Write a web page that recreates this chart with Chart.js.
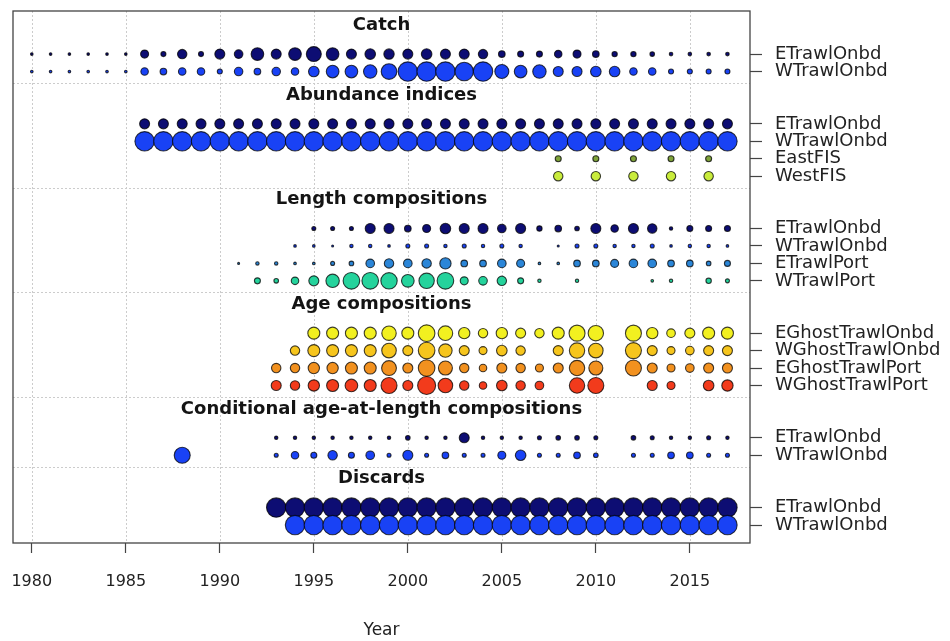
<!DOCTYPE html>
<html>
<head>
<meta charset="utf-8">
<title>Data by type and year</title>
<script src="https://cdn.jsdelivr.net/npm/chart.js@4.4.0/dist/chart.umd.min.js"></script>
<style>
  html, body { margin: 0; padding: 0; background: #fff; }
  #wrap { width: 950px; height: 641px; }
</style>
</head>
<body>
<div id="wrap"><canvas id="dataChart" width="950" height="641"></canvas></div>
<script>
// x axis ticks
const X_TICKS = [1980, 1985, 1990, 1995, 2000, 2005, 2010, 2015];

// section titles and the rows (fleets) under each
const SECTION_TITLES = ['Catch', 'Abundance indices', 'Length compositions', 'Age compositions',
    'Conditional age-at-length compositions', 'Discards'];
const SECTION_FIRST = [0, 4, 10, 16, 22, 26];
const SECTION_LAST = [1, 7, 13, 19, 23, 27];

const ROW_LABELS = ['ETrawlOnbd', 'WTrawlOnbd',
    'ETrawlOnbd', 'WTrawlOnbd', 'EastFIS', 'WestFIS',
    'ETrawlOnbd', 'WTrawlOnbd', 'ETrawlPort', 'WTrawlPort',
    'EGhostTrawlOnbd', 'WGhostTrawlOnbd', 'EGhostTrawlPort', 'WGhostTrawlPort',
    'ETrawlOnbd', 'WTrawlOnbd',
    'ETrawlOnbd', 'WTrawlOnbd'];
const ROW_POS = [0, 1, 4, 5, 6, 7, 10, 11, 12, 13, 16, 17, 18, 19, 22, 23, 26, 27];
const ROW_START = [1980, 1980, 1986, 1986, 2008, 2008, 1995, 1994, 1991, 1992,
    1995, 1994, 1993, 1993, 1993, 1988, 1993, 1994];

// relative bubble values (area), one per year from ROW_START, null = no data
const catchETrawlOnbd = [1.7, 1.7, 1.7, 1.7, 1.7, 1.7, 16, 6.3, 22, 6.3, 25, 18.5, 40, 25, 40, 56, 40, 25, 28, 27,
    25, 28, 25, 25, 22, 11, 9, 9, 14, 16, 11, 7, 7, 5.3, 3.2, 3.2, 3.2, 3.2];
const catchWTrawlOnbd = [1.7, 1.7, 1.7, 1.7, 1.7, 1.7, 14, 11, 14, 14, 6.3, 18, 11, 18, 14, 28, 40, 40, 45, 61,
    94, 94, 94, 85, 94, 49, 40, 45, 25, 25, 28, 28, 14, 14, 6.3, 6.3, 6.3, 6.3];

const abundETrawlOnbd = [25, 25, 25, 25, 25, 25, 25, 25, 25, 25, 25, 25, 25, 25, 25, 25,
    25, 25, 25, 25, 25, 25, 25, 25, 25, 25, 25, 25, 25, 25, 25, 25];
const abundWTrawlOnbd = [94, 94, 94, 94, 94, 94, 94, 94, 94, 94, 94, 94, 94, 94, 94, 94,
    94, 94, 94, 94, 94, 94, 94, 94, 94, 94, 94, 94, 94, 94, 94, 94];
const abundEastFIS = [9, null, 9, null, 9, null, 9, null, 9];
const abundWestFIS = [22, null, 22, null, 22, null, 22, null, 22];

const lenETrawlOnbd = [4, 4, 4, 25, 25,
    11, 16, 28, 25, 25, 18.5, 25, 7, 11, 5.3, 25, 14, 25, 22, 2.9, 9, 9, 9];
const lenWTrawlOnbd = [1.7, 1.7, 1, 2.9, 2.9, 1.7,
    4, 4, 2.9, 4, 2.9, 4, 2.9, null, 1, 4, 4, 2.9, 2.9, 4, 1.7, 2.9, 2.9, 1.7];
const lenETrawlPort = [1, 2.9, 2.9, 1.7, 1.7, 4, 5.3, 18.5, 22,
    18.5, 22, 32, 11, 11, 18.5, 16, 1.7, 1.7, 11, 11, 16, 18.5, 18.5, 11, 11, 5.3, 9];
const lenWTrawlPort = [9, 5.3, 14, 25, 45, 69, 69, 67,
    40, 59, 69, 16, 18.5, 22, 9, 2.9, null, 2.9, null, null, null, 1.7, 2.9, null, 7.3, 4];

const ageEGhostTrawlOnbd = [36, 36, 36, 36, 52,
    36, 69, 53, 32, 22, 32, 25, 22, 36, 64, 59, null, 64, 32, 18.5, 25, 36, 36];
const ageWGhostTrawlOnbd = [22, 36, 36, 36, 36, 53,
    25, 69, 45, 25, 16, 28, 22, null, 25, 59, 53, null, 64, 25, 16, 18.5, 25, 25];
const ageEGhostTrawlPort = [22, 22, 32, 32, 36, 36, 55,
    25, 69, 49, 22, 14, 25, 22, 16, 25, 59, 49, null, 64, 25, 16, 18.5, 25, 25];
const ageWGhostTrawlPort = [25, 22, 32, 36, 40, 36, 64,
    25, 81, 53, 22, 14, 28, 22, 18.5, null, 59, 64, null, null, 25, 16, null, 28, 32];

const condETrawlOnbd = [2.9, 2.9, 2.9, 2.9, 2.9, 2.9, 2.9,
    5.3, 2.9, 2.9, 25, 2.9, 2.9, 2.9, 4, 5.3, 5.3, 4, null, 5.3, 4, 2.9, 2.9, 4, 2.9];
const condWTrawlOnbd = [64, null, null, null, null, 4, 14, 9, 22, 9, 18.5, 4,
    25, 4, 11, 4, 4, 16, 28, 4, 4, 11, 5.3, null, 4, 4, 11, 11, 4, 4];

const discETrawlOnbd = [94, 94, 94, 94, 94, 94, 94, 94, 94, 94, 94, 94, 94, 94, 94, 94,
    94, 94, 94, 94, 94, 94, 94, 94, 94];
const discWTrawlOnbd = [94, 94, 94, 94, 94, 94, 94, 94, 94, 94, 94, 94, 94, 94, 94, 94,
    94, 94, 94, 94, 94, 94, 94, 94];

const ROW_VALUES = [catchETrawlOnbd, catchWTrawlOnbd,
    abundETrawlOnbd, abundWTrawlOnbd, abundEastFIS, abundWestFIS,
    lenETrawlOnbd, lenWTrawlOnbd, lenETrawlPort, lenWTrawlPort,
    ageEGhostTrawlOnbd, ageWGhostTrawlOnbd, ageEGhostTrawlPort, ageWGhostTrawlPort,
    condETrawlOnbd, condWTrawlOnbd,
    discETrawlOnbd, discWTrawlOnbd];

// fleet colours
const FLEET_COLORS = {
    ETrawlOnbd: '#0d0d73',
    WTrawlOnbd: '#1942f5',
    ETrawlPort: '#2b86d8',
    WTrawlPort: '#25d39c',
    EastFIS: '#7fa33a',
    WestFIS: '#c9ec3c',
    EGhostTrawlOnbd: '#f2f020',
    WGhostTrawlOnbd: '#f6c51d',
    EGhostTrawlPort: '#f2911f',
    WGhostTrawlPort: '#f23b1c'
};

const V_MAX = 94;
const R_MAX = 9.7;
const SEP_OFFSET = 0.65;
const TITLE_OFFSET = 1.66;
const FONT = '"DejaVu Sans", "Liberation Sans", sans-serif';

const radius = v => R_MAX * Math.sqrt(v / V_MAX);

const datasets = ROW_VALUES.map((vals, i) => {
    const pts = [];
    vals.forEach((v, k) => {
        if (v === null) return;
        pts.push({ x: ROW_START[i] + k, y: ROW_POS[i], r: radius(v) });
    });
    return {
        label: ROW_LABELS[i],
        data: pts,
        backgroundColor: FLEET_COLORS[ROW_LABELS[i]],
        borderColor: 'rgba(0, 0, 0, 0.75)',
        borderWidth: 1.1,
        order: -i
    };
});

// dotted grid, separators, section titles and the box
const plotDecor = {
    id: 'plotDecor',
    beforeDatasetsDraw(chart) {
        const { ctx, chartArea: a, scales: { x, y } } = chart;
        ctx.save();
        ctx.strokeStyle = '#cccccc';
        ctx.lineWidth = 1;
        ctx.setLineDash([2, 2]);
        X_TICKS.forEach(yr => {
            const px = Math.round(x.getPixelForValue(yr)) + 0.5;
            ctx.beginPath(); ctx.moveTo(px, a.top); ctx.lineTo(px, a.bottom); ctx.stroke();
        });
        SECTION_LAST.slice(0, -1).forEach(r => {
            const py = Math.round(y.getPixelForValue(r + SEP_OFFSET)) + 0.5;
            ctx.beginPath(); ctx.moveTo(a.left, py); ctx.lineTo(a.right, py); ctx.stroke();
        });
        ctx.restore();
    },
    afterDatasetsDraw(chart) {
        const { ctx, chartArea: a, scales: { y } } = chart;
        ctx.save();
        ctx.fillStyle = '#141414';
        ctx.font = 'bold 18px ' + FONT;
        ctx.textAlign = 'center';
        ctx.textBaseline = 'middle';
        SECTION_TITLES.forEach((t, i) => {
            ctx.fillText(t, (a.left + a.right) / 2, y.getPixelForValue(SECTION_FIRST[i] - TITLE_OFFSET));
        });
        ctx.strokeStyle = '#444';
        ctx.lineWidth = 1.3;
        ctx.strokeRect(a.left, a.top, a.right - a.left, a.bottom - a.top);
        ctx.restore();
    }
};

new Chart(document.getElementById('dataChart'), {
    type: 'bubble',
    data: { datasets: datasets },
    options: {
        responsive: false,
        animation: false,
        events: [],
        layout: { padding: { left: 13, top: 11, right: 0, bottom: 0 } },
        plugins: { legend: { display: false }, tooltip: { enabled: false } },
        scales: {
            x: {
                type: 'linear',
                position: 'bottom',
                min: 1979,
                max: 2018.2,
                afterBuildTicks: s => { s.ticks = X_TICKS.map(v => ({ value: v })); },
                afterFit: s => { s.height = 98; s.paddingLeft = 0; s.paddingRight = 0; },
                ticks: {
                    autoSkip: false, maxRotation: 0, padding: 19, color: '#222',
                    font: { family: FONT, size: 16 },
                    callback: v => String(v)
                },
                grid: { drawOnChartArea: false, drawTicks: true, tickLength: 10, tickColor: '#444', tickWidth: 1.2 },
                border: { display: false },
                title: {
                    display: true, text: 'Year', color: '#222',
                    font: { family: FONT, size: 17 },
                    padding: { top: 0, bottom: 0 }
                }
            },
            y: {
                type: 'linear',
                position: 'right',
                reverse: true,
                min: -2.47,
                max: 28.03,
                afterBuildTicks: s => { s.ticks = ROW_POS.map(v => ({ value: v })); },
                afterFit: s => { s.width = 200; s.paddingTop = 0; s.paddingBottom = 0; },
                ticks: {
                    autoSkip: false, padding: 13, color: '#222',
                    font: { family: FONT, size: 18 },
                    callback: v => ROW_LABELS[ROW_POS.indexOf(v)]
                },
                grid: { drawOnChartArea: false, drawTicks: true, tickLength: 12, tickColor: '#444', tickWidth: 1.2 },
                border: { display: false }
            }
        }
    },
    plugins: [plotDecor]
});
</script>
</body>
</html>
